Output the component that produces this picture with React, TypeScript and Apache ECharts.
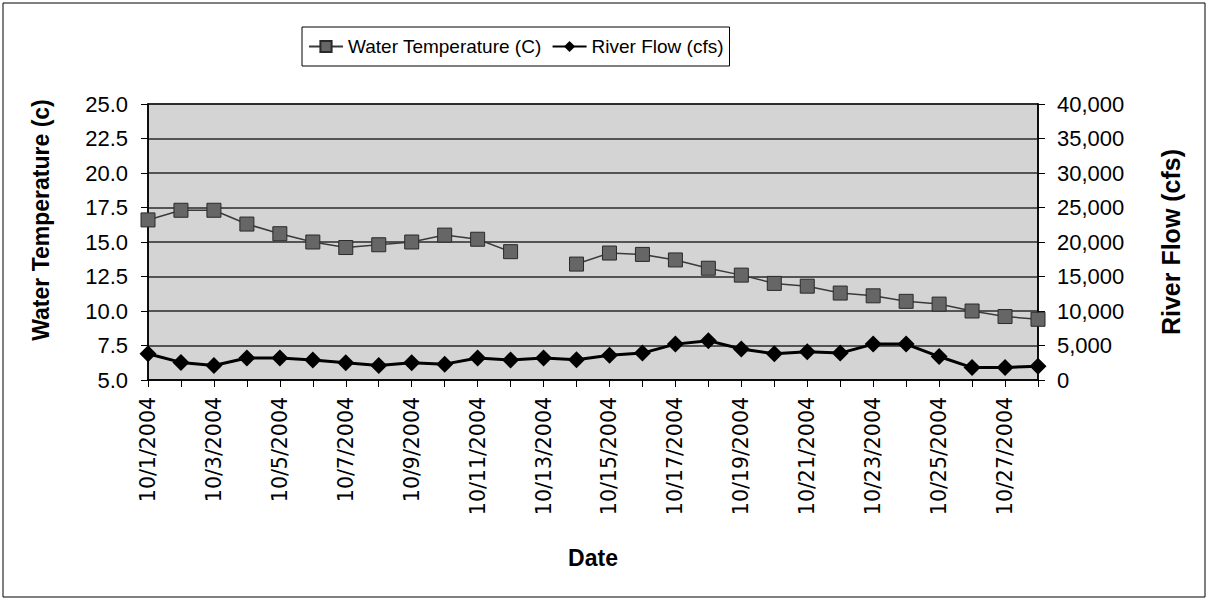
import React, { useEffect, useRef } from "react";
import * as echarts from "echarts";

const dates = [
  "10/1/2004", "10/2/2004", "10/3/2004", "10/4/2004", "10/5/2004", "10/6/2004", "10/7/2004",
  "10/8/2004", "10/9/2004", "10/10/2004", "10/11/2004", "10/12/2004", "10/13/2004", "10/14/2004",
  "10/15/2004", "10/16/2004", "10/17/2004", "10/18/2004", "10/19/2004", "10/20/2004", "10/21/2004",
  "10/22/2004", "10/23/2004", "10/24/2004", "10/25/2004", "10/26/2004", "10/27/2004", "10/28/2004",
];

const waterTemp: (number | null)[] = [
  16.6, 17.3, 17.3, 16.3, 15.6, 15.0, 14.6, 14.8, 15.0, 15.5, 15.2, 14.3, null, 13.4,
  14.2, 14.1, 13.7, 13.1, 12.6, 12.0, 11.8, 11.3, 11.1, 10.7, 10.5, 10.0, 9.6, 9.4,
];

const riverFlow: number[] = [
  3800, 2550, 2100, 3200, 3200, 2900, 2500, 2100, 2500, 2300, 3200, 2900, 3200, 2950,
  3600, 3900, 5200, 5700, 4500, 3800, 4100, 3900, 5200, 5200, 3400, 1800, 1800, 2000,
];

const FONT = "'Liberation Sans', Arial, sans-serif";
const WIDE = "'DejaVu Sans', 'Liberation Sans', sans-serif";

export default function App() {
  const ref = useRef<HTMLDivElement>(null);
  useEffect(() => {
    document.body.style.margin = "0";
    if (!ref.current) return;
    const chart = echarts.init(ref.current, undefined, { renderer: "svg" });
    const titleStyle = { fontFamily: FONT, fontSize: 23, fontWeight: "bold", color: "#000" };
    chart.setOption({
      animation: false,
      backgroundColor: "#ffffff",
      textStyle: { fontFamily: FONT },
      graphic: [
        {
          type: "rect",
          shape: { x: 3, y: 3, width: 1202, height: 594 },
          style: { fill: "none", stroke: "#000", lineWidth: 1 },
          silent: true,
        },
      ],
      legend: {
        left: 302,
        top: 27,
        backgroundColor: "#fff",
        borderColor: "#000",
        borderWidth: 1,
        padding: [10, 6, 10, 6],
        itemGap: 10,
        itemWidth: 34,
        itemHeight: 14,
        textStyle: { fontFamily: FONT, fontSize: 19, color: "#000" },
        data: ["Water Temperature (C)", "River Flow (cfs)"],
      },
      grid: {
        left: 148,
        right: 170,
        top: 104,
        bottom: 220,
        show: true,
        backgroundColor: "#d4d4d4",
        borderColor: "#000",
        borderWidth: 1.5,
      },
      xAxis: {
        type: "category",
        data: dates,
        boundaryGap: false,
        name: "Date",
        nameLocation: "middle",
        nameGap: 166,
        nameTextStyle: titleStyle,
        axisLine: { lineStyle: { color: "#000", width: 1.5 } },
        axisTick: { show: true, interval: 0, length: 7, lineStyle: { color: "#000" } },
        axisLabel: {
          interval: 1,
          rotate: 90,
          fontFamily: WIDE,
          fontSize: 20.5,
          color: "#000",
          margin: 17,
        },
        splitLine: { show: false },
      },
      yAxis: [
        {
          type: "value",
          min: 5,
          max: 25,
          interval: 2.5,
          position: "left",
          name: "Water Temperature (c)",
          nameLocation: "middle",
          nameRotate: 90,
          nameGap: 96,
          nameTextStyle: { ...titleStyle, padding: [0, 0, 0, 44] },
          axisLine: { show: true, lineStyle: { color: "#000", width: 1.5 } },
          axisTick: { show: true, length: 7, lineStyle: { color: "#000" } },
          axisLabel: {
            fontFamily: FONT,
            fontSize: 22,
            color: "#000",
            margin: 20,
            formatter: (v: number) => v.toFixed(1),
          },
          splitLine: { show: true, lineStyle: { color: "#2a2a2a", width: 1.5 } },
        },
        {
          type: "value",
          min: 0,
          max: 40000,
          interval: 5000,
          position: "right",
          name: "River Flow (cfs)",
          nameLocation: "middle",
          nameRotate: 90,
          nameGap: 120,
          nameTextStyle: { ...titleStyle, fontSize: 25 },
          axisLine: { show: true, lineStyle: { color: "#000", width: 1.5 } },
          axisTick: { show: true, length: 7, lineStyle: { color: "#000" } },
          axisLabel: {
            fontFamily: FONT,
            fontSize: 22,
            color: "#000",
            margin: 19,
            formatter: (v: number) => v.toLocaleString("en-US"),
          },
          splitLine: { show: false },
        },
      ],
      series: [
        {
          name: "Water Temperature (C)",
          type: "line",
          yAxisIndex: 0,
          data: waterTemp,
          connectNulls: false,
          symbol: "rect",
          symbolSize: 14,
          lineStyle: { color: "#3a3a3a", width: 1.5 },
          itemStyle: { color: "#666666", borderColor: "#2a2a2a", borderWidth: 1 },
          z: 3,
        },
        {
          name: "River Flow (cfs)",
          type: "line",
          yAxisIndex: 1,
          data: riverFlow,
          symbol: "diamond",
          symbolSize: 17,
          lineStyle: { color: "#000", width: 3 },
          itemStyle: { color: "#000", borderColor: "#000", borderWidth: 0 },
          z: 4,
        },
      ],
    });
    return () => chart.dispose();
  }, []);
  return <div ref={ref} style={{ width: 1208, height: 600 }} />;
}
